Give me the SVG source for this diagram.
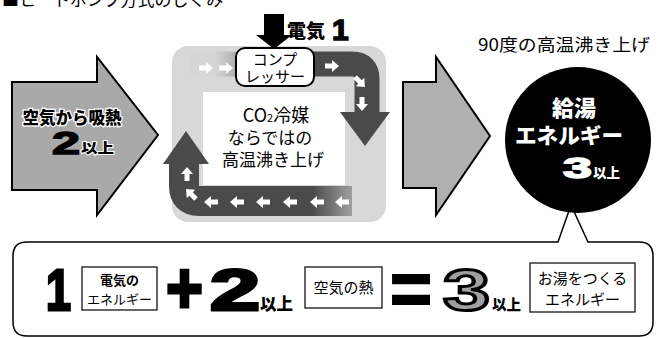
<svg xmlns="http://www.w3.org/2000/svg" width="658" height="338" viewBox="0 0 658 338">
<defs>
<style>
.jp{font-family:"Noto Sans CJK JP","Noto Sans",sans-serif;}
.num{font-family:"Liberation Sans","Arial",sans-serif;font-weight:bold;}
.bx{fill:#fff;stroke:#000;stroke-width:1.2;}
</style>
<linearGradient id="gTop" gradientUnits="userSpaceOnUse" x1="215" y1="0" x2="290" y2="0">
<stop offset="0" stop-color="#d6d6d6"/><stop offset="1" stop-color="#4a4a4a"/>
</linearGradient>
<linearGradient id="gBot" gradientUnits="userSpaceOnUse" x1="378" y1="0" x2="312" y2="0">
<stop offset="0" stop-color="#d6d6d6"/><stop offset="1" stop-color="#4a4a4a"/>
</linearGradient>
<path id="sa" d="M-7,-2.5 H0 V-6 L7,0 L0,6 V2.5 H-7 Z" fill="#fff"/>
</defs>
<rect width="658" height="338" fill="#fff"/>

<text class="jp" x="2" y="6" font-size="17" fill="#000">■ヒートポンプ方式のしくみ</text>

<g id="air-arrow">
<polygon points="12,82 97,82 97,57 158,135 97,215 97,190 12,190" fill="#a9a9a9" stroke="#000" stroke-width="2"/>
<text class="jp" x="72" y="124" font-size="17" font-weight="900" text-anchor="middle" fill="#000" stroke="#fff" stroke-width="2.5" paint-order="stroke" textLength="99" lengthAdjust="spacingAndGlyphs">空気から吸熱</text>
<text class="num" x="52" y="154" font-size="32" fill="#000" stroke="#000" stroke-width="1.5" textLength="28" lengthAdjust="spacingAndGlyphs">2</text>
<text class="jp" x="81" y="153" font-size="14" font-weight="900" fill="#000" stroke="#fff" stroke-width="2" paint-order="stroke" textLength="33" lengthAdjust="spacingAndGlyphs">以上</text>
</g>

<g id="cycle">
<rect x="172" y="46" width="214" height="176" rx="16" fill="#d8d8d8"/>
<rect x="203" y="92" width="142" height="93" fill="#fff"/>
<path d="M190 64 H352 Q367 64 367 79 V114" fill="none" stroke="url(#gTop)" stroke-width="25"/>
<polygon points="340,112 390,112 365,146" fill="#4a4a4a"/>
<path d="M352 201 H199 Q184 201 184 186 V162" fill="none" stroke="url(#gBot)" stroke-width="30"/>
<polygon points="163,164 209,164 186,131" fill="#4a4a4a"/>
<use href="#sa" transform="translate(206,68)"/>
<use href="#sa" transform="translate(226,68)"/>
<use href="#sa" transform="translate(332,66)"/>
<use href="#sa" transform="translate(360,82) rotate(45)"/>
<use href="#sa" transform="translate(362,104) rotate(90)"/>
<use href="#sa" transform="translate(342,202) rotate(180)"/>
<use href="#sa" transform="translate(317,202) rotate(180)"/>
<use href="#sa" transform="translate(290,202) rotate(180)"/>
<use href="#sa" transform="translate(263,202) rotate(180)"/>
<use href="#sa" transform="translate(237,202) rotate(180)"/>
<use href="#sa" transform="translate(211,202) rotate(180)"/>
<use href="#sa" transform="translate(191,194) rotate(225)"/>
<use href="#sa" transform="translate(187,174) rotate(270)"/>
<text class="jp" x="276" y="122" font-size="18" text-anchor="middle" fill="#000">CO<tspan font-size="11">2</tspan>冷媒</text>
<text class="jp" x="270" y="144" font-size="17" text-anchor="middle" fill="#000">ならではの</text>
<text class="jp" x="273" y="166" font-size="17" text-anchor="middle" fill="#000">高温沸き上げ</text>
</g>

<g id="electricity">
<rect x="264" y="14" width="20" height="22" fill="#000"/>
<polygon points="256,35 292,35 274,49" fill="#000"/>
<text class="jp" x="287" y="38" font-size="19" font-weight="900" fill="#000">電気</text>
<text class="num" x="332" y="40" font-size="30" fill="#000" stroke="#000" stroke-width="1.5">1</text>
</g>

<g id="compressor">
<rect x="236" y="48" width="78" height="38" rx="9" fill="#fff" stroke="#000" stroke-width="2"/>
<text class="jp" x="275" y="65" font-size="15" text-anchor="middle" fill="#000">コンプ</text>
<text class="jp" x="275" y="82" font-size="15" text-anchor="middle" fill="#000">レッサー</text>
</g>

<g id="mid-arrow">
<polygon points="403,82 436,82 436,57 490,136 436,215 436,188 403,188" fill="#b0b0b0" stroke="#000" stroke-width="2"/>
</g>

<g id="result-box">
<path d="M588,242 H639 Q653,242 653,256 V322 Q653,336 639,336 H27 Q13,336 13,322 V256 Q13,242 27,242 H558 L571,205 Z" fill="#fff" stroke="#000" stroke-width="1.5"/>
<text class="num" x="46" y="310" font-size="58" fill="#000" stroke="#000" stroke-width="3" textLength="25" lengthAdjust="spacingAndGlyphs">1</text>
<rect class="bx" x="82" y="267" width="75" height="43"/>
<text class="jp" x="119.5" y="285" font-size="13" font-weight="bold" text-anchor="middle">電気の</text>
<text class="jp" x="119.5" y="304" font-size="13" text-anchor="middle">エネルギー</text>
<text class="num" x="166" y="313" font-size="72" fill="#000" stroke="#000" stroke-width="3" textLength="37" lengthAdjust="spacingAndGlyphs">+</text>
<text class="num" x="210" y="310" font-size="58" fill="#000" stroke="#000" stroke-width="3" textLength="50" lengthAdjust="spacingAndGlyphs">2</text>
<text class="jp" x="260" y="310" font-size="17" font-weight="900" textLength="33" lengthAdjust="spacingAndGlyphs">以上</text>
<rect class="bx" x="305" y="267" width="77" height="41"/>
<text class="jp" x="343.5" y="293" font-size="15" text-anchor="middle">空気の熱</text>
<text class="num" x="390" y="315" font-size="76" fill="#000" stroke="#000" stroke-width="2" textLength="42" lengthAdjust="spacingAndGlyphs">=</text>
<text class="num" x="443" y="310" font-size="58" fill="#a0a0a0" stroke="#000" stroke-width="3" textLength="47" lengthAdjust="spacingAndGlyphs">3</text>
<text class="jp" x="492" y="310" font-size="15" font-weight="900" textLength="29" lengthAdjust="spacingAndGlyphs">以上</text>
<rect class="bx" x="530" y="263" width="105" height="49"/>
<text class="jp" x="582.5" y="284" font-size="15" text-anchor="middle">お湯をつくる</text>
<text class="jp" x="582.5" y="305" font-size="15" text-anchor="middle">エネルギー</text>
</g>

<g id="hot-water">
<circle cx="578" cy="140" r="73" fill="#000"/>
<text class="jp" x="574" y="116" font-size="22" font-weight="900" text-anchor="middle" fill="#fff">給湯</text>
<text class="jp" x="569" y="143" font-size="21" font-weight="900" text-anchor="middle" fill="#fff" textLength="108" lengthAdjust="spacingAndGlyphs">エネルギー</text>
<text class="num" x="563" y="178" font-size="30" fill="#fff" stroke="#fff" stroke-width="1.5" textLength="29" lengthAdjust="spacingAndGlyphs">3</text>
<text class="jp" x="593" y="178" font-size="14" font-weight="900" fill="#fff" textLength="27" lengthAdjust="spacingAndGlyphs">以上</text>
<text class="jp" x="564" y="51" font-size="17" text-anchor="middle" fill="#000" textLength="172" lengthAdjust="spacingAndGlyphs">90度の高温沸き上げ</text>
</g>
</svg>
